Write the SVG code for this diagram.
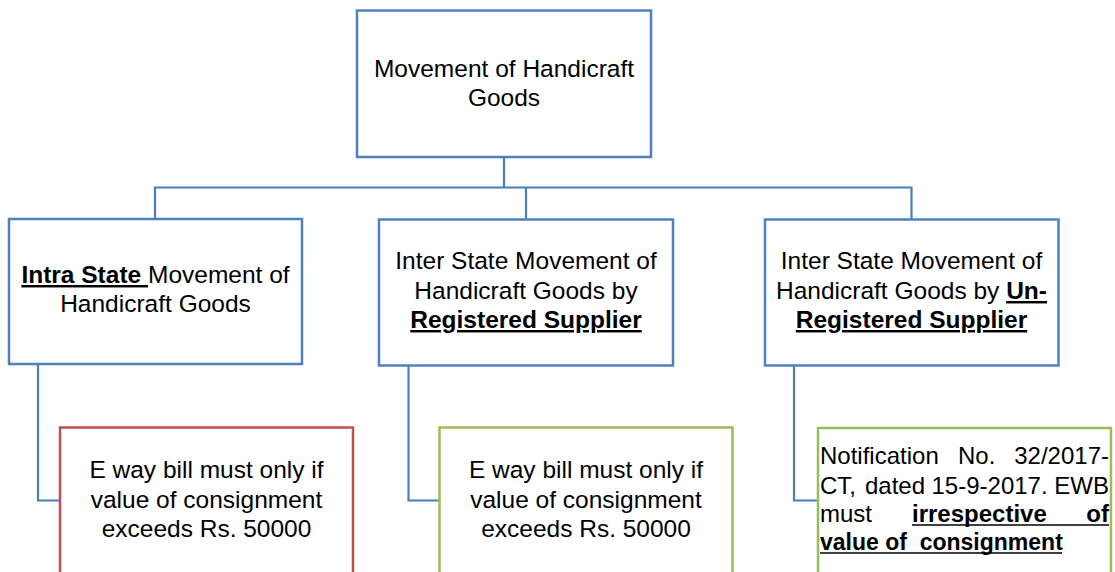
<svg xmlns="http://www.w3.org/2000/svg" width="1115" height="572" viewBox="0 0 1115 572">
<style>
.box{fill:#fff;stroke:#4F81BD;stroke-width:2.5}
.red{fill:#fff;stroke:#C0504D;stroke-width:2.5}
.grn{fill:#fff;stroke:#9BBB59;stroke-width:2.5}
.con{fill:none;stroke:#4A7EBB;stroke-width:2.2}
.ul{stroke:#000;stroke-width:1.3}
text{font-family:"Liberation Sans",Arial,sans-serif;font-size:24.5px;fill:#000}
.c{text-anchor:middle}
.b{font-weight:bold}
.u{text-decoration:underline}
.sm{font-size:24px}
</style>
<rect width="1115" height="572" fill="#fff"/>
<g id="connectors">
<path class="con" d="M155,219 V187.5 H911.5 V219"/>
<path class="con" d="M504,157 V187.5"/>
<path class="con" d="M526,187.5 V219"/>
<path class="con" d="M38,364 V500.5 H60"/>
<path class="con" d="M408.5,366 V500.5 H439"/>
<path class="con" d="M794,366 V500.5 H817.5"/>
</g>
<g id="root">
<rect class="box" x="357" y="10.5" width="294" height="146.5"/>
<text class="c" x="504" y="77">Movement of Handicraft</text>
<text class="c" x="504" y="106">Goods</text>
</g>
<g id="intra">
<rect class="box" x="9" y="219" width="293" height="145"/>
<text class="c" x="155.5" y="283" xml:space="preserve"><tspan class="b u">Intra State </tspan>Movement of</text>
<text class="c" x="155.5" y="312">Handicraft Goods</text>
</g>
<g id="inter-reg">
<rect class="box" x="379" y="219.5" width="294" height="146"/>
<text class="c" x="526" y="269">Inter State Movement of</text>
<text class="c" x="526" y="299">Handicraft Goods by</text>
<text class="c b u" x="526" y="328">Registered Supplier</text>
</g>
<g id="inter-unreg">
<rect class="box" x="765" y="219.5" width="293.5" height="146"/>
<text class="c" x="911.5" y="269">Inter State Movement of</text>
<text class="c" x="911.5" y="299">Handicraft Goods by <tspan class="b u">Un-</tspan></text>
<text class="c b u" x="911.5" y="328">Registered Supplier</text>
</g>
<g id="intra-ewb">
<rect class="red" x="60" y="427.5" width="293" height="170"/>
<text class="c" x="206.5" y="478">E way bill must only if</text>
<text class="c" x="206.5" y="507.5">value of consignment</text>
<text class="c" x="206.5" y="537">exceeds Rs. 50000</text>
</g>
<g id="inter-reg-ewb">
<rect class="grn" x="439.5" y="427.5" width="293" height="170"/>
<text class="c" x="586" y="478">E way bill must only if</text>
<text class="c" x="586" y="507.5">value of consignment</text>
<text class="c" x="586" y="537">exceeds Rs. 50000</text>
</g>
<g id="inter-unreg-ewb">
<rect class="grn" x="818" y="428" width="293" height="170"/>
<text class="sm" x="820" y="464">Notification</text>
<text class="sm" x="958" y="464">No.</text>
<text class="sm" x="1109" y="464" text-anchor="end">32/2017-</text>
<text class="sm" x="820" y="493.5">CT,</text>
<text class="sm" x="865" y="493.5">dated</text>
<text class="sm" x="931.5" y="493.5">15-9-2017.</text>
<text class="sm" x="1109" y="493.5" text-anchor="end">EWB</text>
<text class="sm" x="820" y="522">must</text>
<text class="sm b" x="912" y="522">irrespective</text>
<text class="sm b" x="1109" y="522" text-anchor="end">of</text>
<line class="ul" x1="912" y1="525" x2="1109" y2="525"/>
<text class="b" x="820" y="550" xml:space="preserve" style="font-size:23px">value of  consignment</text>
<line class="ul" x1="820" y1="553" x2="1062" y2="553"/>
</g>
</svg>
